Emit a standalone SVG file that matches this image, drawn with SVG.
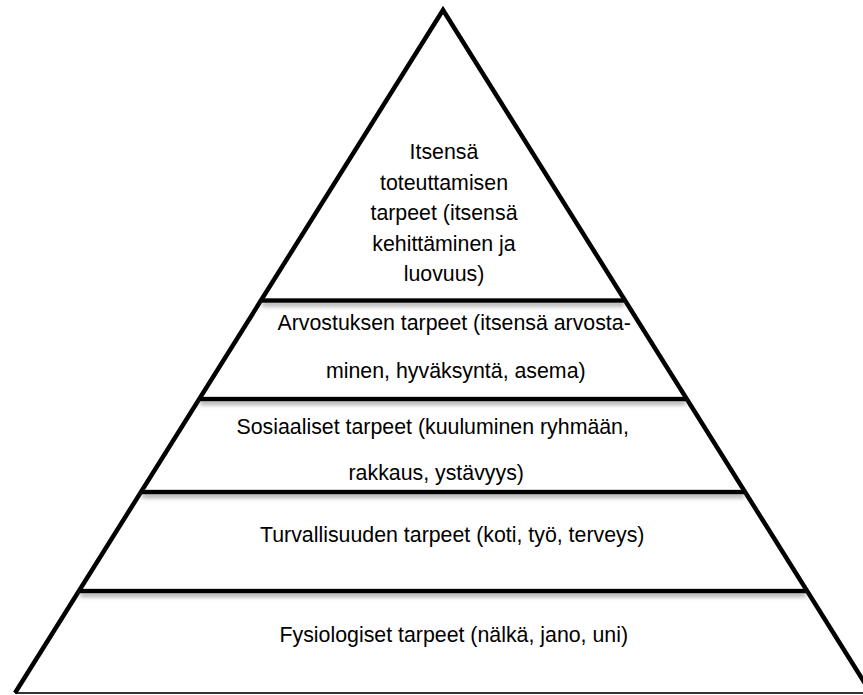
<svg xmlns="http://www.w3.org/2000/svg" width="863" height="695" viewBox="0 0 863 695">
<style>
.t{font-family:"Liberation Sans",Arial,sans-serif;font-size:21.33px;fill:#000}
.c{text-anchor:middle}
.edge{stroke:#000;stroke-width:4.5;fill:none;stroke-linejoin:miter}
.bar{fill:#000}
</style>
<defs>
<filter id="sh" filterUnits="userSpaceOnUse" x="0" y="0" width="863" height="695">
<feDropShadow dx="0" dy="3.5" stdDeviation="2" flood-color="#808080" flood-opacity="0.7"/>
</filter>
</defs>
<rect width="863" height="695" fill="#fff"/>
<g id="pyramid">
<line x1="15" y1="693" x2="863" y2="693" stroke="#333" stroke-width="2"/>
<polyline class="edge" points="15,693 443,10 871,693"/>
</g>
<g id="connectors" filter="url(#sh)">
<rect class="bar" x="262" y="298.3" width="362" height="4.5"/>
<rect class="bar" x="200" y="396.8" width="486" height="4.5"/>
<rect class="bar" x="142" y="489.8" width="602" height="4.5"/>
<rect class="bar" x="80" y="588.8" width="726" height="4.5"/>
</g>
<g id="tier1">
<text class="t c" x="444" y="159">Itsensä</text>
<text class="t c" x="444" y="189.5">toteuttamisen</text>
<text class="t c" x="444" y="220">tarpeet (itsensä</text>
<text class="t c" x="444" y="250.5">kehittäminen ja</text>
<text class="t c" x="444" y="281">luovuus)</text>
</g>
<g id="tier2">
<text class="t" x="277.5" y="329.5">Arvostuksen tarpeet (itsensä arvosta-</text>
<text class="t" x="326" y="377.5">minen, hyväksyntä, asema)</text>
</g>
<g id="tier3">
<text class="t" x="236.5" y="433.5">Sosiaaliset tarpeet (kuuluminen ryhmään,</text>
<text class="t" x="348.5" y="479.5">rakkaus, ystävyys)</text>
</g>
<g id="tier4">
<text class="t" x="260" y="542">Turvallisuuden tarpeet (koti, työ, terveys)</text>
</g>
<g id="tier5">
<text class="t" x="279.5" y="641.5">Fysiologiset tarpeet (nälkä, jano, uni)</text>
</g>
</svg>
